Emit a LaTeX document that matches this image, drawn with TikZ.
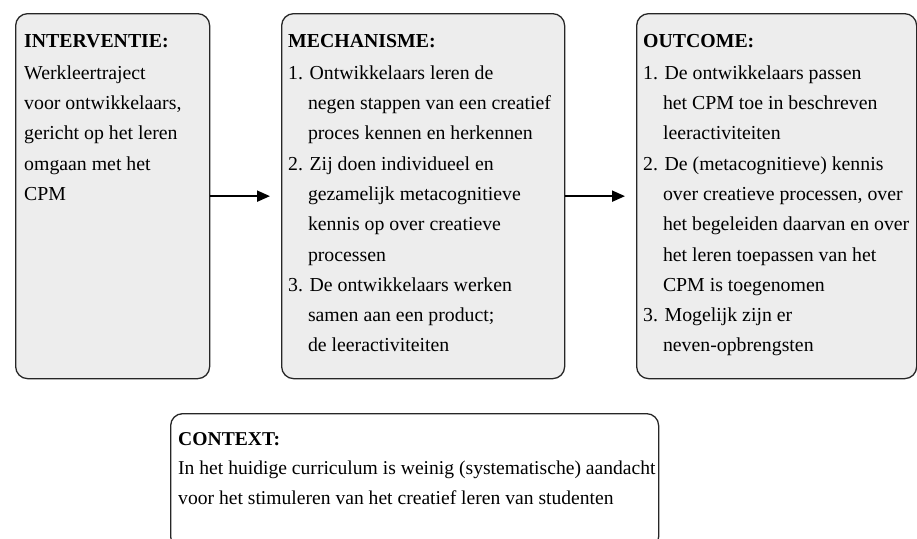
\documentclass[tikz,border=0pt]{standalone}
\usepackage{fontspec}
\setmainfont{Liberation Serif}
\usetikzlibrary{arrows.meta}
\newcommand{\boxcolor}{black!7!white}
\newcommand{\edgecolor}{black!85!white}
\newcommand{\ind}{\hphantom{1.}\ }

\begin{document}
\begin{tikzpicture}[x=1pt, y=-1pt, >={Triangle[length=13pt, width=11pt]},
    fase/.style={draw=\edgecolor, line width=1.3pt, rounded corners=12pt, fill=\boxcolor, inner sep=0pt, anchor=north west},
    tekst/.style={anchor=north west, inner sep=0pt, align=left, font=\fontsize{19.8}{30.3}\selectfont}]
    \useasboundingbox (0, 0) rectangle (917, 538);

    % boxes
    \node[fase, minimum width=194pt, minimum height=365pt] (interv) at (15, 13) {};
    \node[fase, minimum width=283pt, minimum height=365pt] (mech) at (281, 13) {};
    \node[fase, minimum width=280pt, minimum height=365pt] (outc) at (636, 13) {};
    \node[fase, fill=white, minimum width=488pt, minimum height=135pt] (context) at (170, 413) {};

    % arrows
    \draw[->, line width=2pt, shorten >=11pt] (interv) -- (mech);
    \draw[->, line width=2pt, shorten >=11pt] (mech) -- (outc);

    % texts
    \node[tekst] (intervtxt) at ([shift={(9, 12.8)}]interv.north west) {\strut\textbf{INTERVENTIE:}\\[1.7pt]
        Werkleertraject\\
        voor ontwikkelaars,\\
        gericht op het leren\\
        omgaan met het\\
        CPM};
    \node[tekst] (mechtxt) at ([shift={(7, 12.8)}]mech.north west) {\strut\textbf{MECHANISME:}\\[1.7pt]
        1. Ontwikkelaars leren de\\
        \ind negen stappen van een creatief\\
        \ind proces kennen en herkennen\\
        2. Zij doen individueel en\\
        \ind gezamelijk metacognitieve\\
        \ind kennis op over creatieve\\
        \ind processen\\
        3. De ontwikkelaars werken\\
        \ind samen aan een product;\\
        \ind de leeractiviteiten};
    \node[tekst] (outctxt) at ([shift={(7, 12.8)}]outc.north west) {\strut\textbf{OUTCOME:}\\[1.7pt]
        1. De ontwikkelaars passen\\
        \ind het CPM toe in beschreven\\
        \ind leeractiviteiten\\
        2. De (metacognitieve) kennis\\
        \ind over creatieve processen, over\\
        \ind het begeleiden daarvan en over\\
        \ind het leren toepassen van het\\
        \ind CPM is toegenomen\\
        3. Mogelijk zijn er\\
        \ind neven-opbrengsten};
    \node[tekst, font=\fontsize{19.6}{30}\selectfont] (contexttxt) at ([shift={(8, 10.8)}]context.north west) {\strut\textbf{CONTEXT:}\\[-1pt]
        In het huidige curriculum is weinig (systematische) aandacht\\
        voor het stimuleren van het creatief leren van studenten};
\end{tikzpicture}
\end{document}
